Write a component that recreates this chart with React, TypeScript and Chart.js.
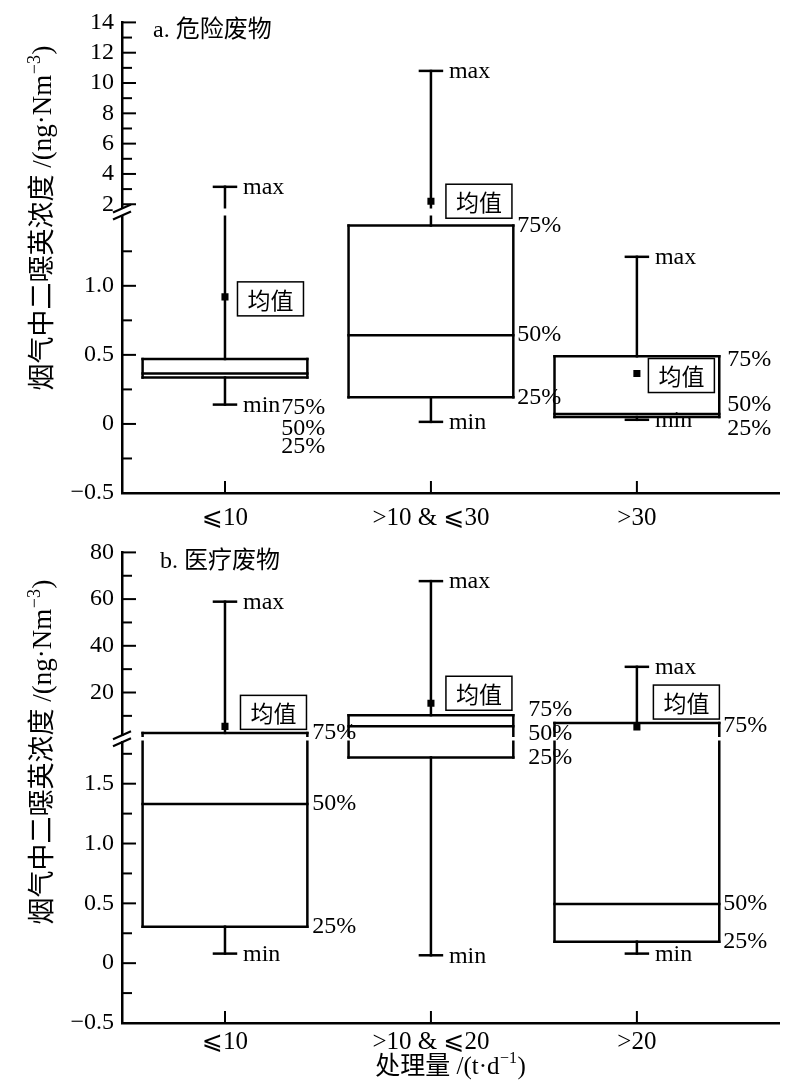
import React, { useEffect, useRef } from 'react';
import { Chart, registerables } from 'chart.js';
Chart.register(...registerables);

const LATIN = '"Liberation Serif", "DejaVu Serif", "DejaVu Sans", "Noto Sans CJK SC", serif';
const CJK = '"Noto Sans CJK SC", sans-serif';

// ---------- panel a: 危险废物 ----------
const titleA = 'a. 危险废物';
const catsA = ['⩽10', '>10 & ⩽30', '>30'];
const minA = [0.14, 0.015, 0.03];
const q1A = [0.336, 0.193, 0.05];
const medA = [0.365, 0.643, 0.072];
const q3A = [0.47, 1.436, 0.49];
const maxA = [3.15, 10.8, 1.21];
const meanA = [0.92, 2.2, 0.365];
const lowRangeA = [-0.5, 1.5];
const highRangeA = [1.8, 14];
const lowTicksA = [-0.5, 0, 0.5, 1.0];
const lowMinorA = [-0.25, 0.25, 0.75, 1.25];
const highTicksA = [2, 4, 6, 8, 10, 12, 14];
const highMinorA = [3, 5, 7, 9, 11, 13];

// ---------- panel b: 医疗废物 ----------
const titleB = 'b. 医疗废物';
const catsB = ['⩽10', '>10 & ⩽20', '>20'];
const minB = [0.08, 0.066, 0.08];
const q1B = [0.305, 1.72, 0.18];
const medB = [1.33, 5.6, 0.495];
const q3B = [2.7, 10.3, 6.9];
const maxB = [58.9, 67.7, 31];
const meanB = [5.5, 15.4, 5.2];
const lowRangeB = [-0.5, 1.85];
const highRangeB = [1.5, 80];
const lowTicksB = [-0.5, 0, 0.5, 1.0, 1.5];
const lowMinorB = [-0.25, 0.25, 0.75, 1.25, 1.75];
const highTicksB = [20, 40, 60, 80];
const highMinorB = [10, 30, 50, 70];

const yTitleMain = '烟气中二噁英浓度 /(ng·Nm';
const yTitleSup = '−3';
const xTitleMain = '处理量 /(t·d';
const xTitleSup = '−1';
const pctLabels = ['25%', '50%', '75%'];
const meanLabel = '均值';

// ---------- styles ----------
const BOX_W = 0.8;
const CAP_HALF = 11;

interface PanelCfg {
  title: string; titleX: number; titleY: number;
  cats: string[]; mins: number[]; q1: number[]; med: number[]; q3: number[]; maxs: number[]; means: number[];
  lowRange: number[]; highRange: number[];
  lowTicks: number[]; lowMinor: number[]; highTicks: number[]; highMinor: number[];
  weights: number[];
  pctOffsets: number[][][];
  meanBoxDx: number[]; meanBoxDy: number[];
  xLabelPad: number; xAxisH: number; xTitle: boolean; yTitleCy: number;
}

const panelA: PanelCfg = {
  title: titleA, titleX: 153, titleY: 31,
  cats: catsA, mins: minA, q1: q1A, med: medA, q3: q3A, maxs: maxA, means: meanA,
  lowRange: lowRangeA, highRange: highRangeA,
  lowTicks: lowTicksA, lowMinor: lowMinorA, highTicks: highTicksA, highMinor: highMinorA,
  weights: [187.4, 9.6, 280],
  pctOffsets: [
    [[-30, 69], [-30, 55], [-30, 49]],
    [[0, 0], [0, 0], [0, 0]],
    [[4, 12], [4, -9], [4, 3]],
  ],
  meanBoxDx: [12.5, 15, 11.5], meanBoxDy: [2, 0, 2],
  xLabelPad: 10, xAxisH: 37, xTitle: false, yTitleCy: 218,
};

const panelB: PanelCfg = {
  title: titleB, titleX: 160, titleY: 32,
  cats: catsB, mins: minB, q1: q1B, med: medB, q3: q3B, maxs: maxB, means: meanB,
  lowRange: lowRangeB, highRange: highRangeB,
  lowTicks: lowTicksB, lowMinor: lowMinorB, highTicks: highTicksB, highMinor: highMinorB,
  weights: [185.8, 6.2, 285],
  pctOffsets: [
    [[1, 0], [1, 0], [1, 0]],
    [[11, 0], [11, 8], [11, -5]],
    [[0, 0], [0, 0], [0, 3]],
  ],
  meanBoxDx: [15.5, 15, 16.5], meanBoxDy: [-14, -10, -25],
  xLabelPad: 4, xAxisH: 57, xTitle: true, yTitleCy: 222,
};

function fmtLow(v: number) {
  if (v === 0) return '0';
  return (v < 0 ? '−' : '') + Math.abs(v).toFixed(1);
}

function drawSupText(ctx: CanvasRenderingContext2D, main: string, sup: string, cx: number, cy: number, size: number) {
  const big = `${size}px ${LATIN}`;
  const small = `${Math.round(size * 0.65)}px ${LATIN}`;
  ctx.font = big; const w1 = ctx.measureText(main).width; const w3 = ctx.measureText(')').width;
  ctx.font = small; const w2 = ctx.measureText(sup).width;
  const W = w1 + w2 + w3 + 1;
  let x = cx - W / 2;
  ctx.textAlign = 'left'; ctx.textBaseline = 'middle';
  ctx.font = big; ctx.fillText(main, x, cy); x += w1 + 0.5;
  ctx.font = small; ctx.fillText(sup, x, cy - size * 0.33); x += w2 + 0.5;
  ctx.font = big; ctx.fillText(')', x, cy);
}

function makePlugin(p: PanelCfg) {
  return {
    id: 'boxplot',
    beforeDatasetsDraw(chart: any) {
      const ctx: CanvasRenderingContext2D = chart.ctx;
      const xs = chart.scales.x, lo = chart.scales.yLow, hi = chart.scales.yHigh;
      const lowMax = lo.max;
      const isHigh = (v: number) => v > lowMax;
      const py = (v: number) => (isHigh(v) ? hi : lo).getPixelForValue(v);
      ctx.save();
      ctx.strokeStyle = '#000'; ctx.lineWidth = 2.5; ctx.lineCap = 'square';
      const vline = (x: number, a: number, b: number) => {
        ctx.beginPath();
        if (isHigh(a) === isHigh(b)) { ctx.moveTo(x, py(a)); ctx.lineTo(x, py(b)); }
        else { ctx.moveTo(x, py(a)); ctx.lineTo(x, lo.top); ctx.moveTo(x, hi.bottom); ctx.lineTo(x, py(b)); }
        ctx.stroke();
      };
      const hline = (x1: number, x2: number, v: number) => {
        ctx.beginPath(); ctx.moveTo(x1, py(v)); ctx.lineTo(x2, py(v)); ctx.stroke();
      };
      p.cats.forEach((_, i) => {
        const c = i + 1;
        const cx = xs.getPixelForValue(c);
        const xl = xs.getPixelForValue(c - BOX_W / 2);
        const xr = xs.getPixelForValue(c + BOX_W / 2);
        vline(cx, p.mins[i], p.q1[i]);
        vline(cx, p.q3[i], p.maxs[i]);
        hline(cx - CAP_HALF, cx + CAP_HALF, p.mins[i]);
        hline(cx - CAP_HALF, cx + CAP_HALF, p.maxs[i]);
        vline(xl, p.q1[i], p.q3[i]);
        vline(xr, p.q1[i], p.q3[i]);
        hline(xl, xr, p.q1[i]);
        hline(xl, xr, p.q3[i]);
        hline(xl, xr, p.med[i]);
      });
      ctx.restore();
    },
    afterDatasetsDraw(chart: any) {
      const ctx: CanvasRenderingContext2D = chart.ctx;
      const area = chart.chartArea;
      const xs = chart.scales.x, lo = chart.scales.yLow, hi = chart.scales.yHigh;
      const lowMax = lo.max;
      const isHigh = (v: number) => v > lowMax;
      const py = (v: number) => (isHigh(v) ? hi : lo).getPixelForValue(v);
      ctx.save();
      ctx.strokeStyle = '#000'; ctx.fillStyle = '#000';
      // inward ticks
      ctx.lineWidth = 2; ctx.lineCap = 'butt';
      const ytick = (s: any, v: number, len: number) => {
        const y = s.getPixelForValue(v);
        ctx.beginPath(); ctx.moveTo(area.left, y); ctx.lineTo(area.left + len, y); ctx.stroke();
      };
      p.lowTicks.forEach(v => ytick(lo, v, 14));
      p.lowMinor.forEach(v => ytick(lo, v, 10));
      p.highTicks.forEach(v => ytick(hi, v, 14));
      p.highMinor.forEach(v => ytick(hi, v, 10));
      p.cats.forEach((_, i) => {
        const x = xs.getPixelForValue(i + 1);
        ctx.beginPath(); ctx.moveTo(x, area.bottom); ctx.lineTo(x, area.bottom - 12); ctx.stroke();
      });
      // break marks
      const gc = (hi.bottom + lo.top) / 2;
      ctx.lineWidth = 2.2;
      [-3.5, 3.5].forEach(k => {
        ctx.beginPath();
        ctx.moveTo(area.left - 9, gc + k + 4);
        ctx.lineTo(area.left + 9, gc + k - 4);
        ctx.stroke();
      });
      // labels
      ctx.textBaseline = 'middle';
      p.cats.forEach((_, i) => {
        const c = i + 1;
        const cx = xs.getPixelForValue(c);
        const xr = xs.getPixelForValue(c + BOX_W / 2);
        ctx.font = `24px ${LATIN}`; ctx.textAlign = 'left'; ctx.fillStyle = '#000';
        ctx.fillText('max', cx + CAP_HALF + 7, py(p.maxs[i]) + 1);
        ctx.fillText('min', cx + CAP_HALF + 7, py(p.mins[i]) + 1);
        [p.q1[i], p.med[i], p.q3[i]].forEach((v, k) => {
          const [dx, dy] = p.pctOffsets[i][k];
          ctx.fillText(pctLabels[k], xr + 4 + dx, py(v) + dy);
        });
        const bw = 66, bh = 34;
        const bx = cx + p.meanBoxDx[i];
        const by = py(p.means[i]) + p.meanBoxDy[i] - bh / 2;
        ctx.fillStyle = '#fff'; ctx.fillRect(bx, by, bw, bh);
        ctx.lineWidth = 1.5; ctx.strokeRect(bx, by, bw, bh);
        ctx.fillStyle = '#000'; ctx.font = `23px ${CJK}`; ctx.textAlign = 'center';
        ctx.fillText(meanLabel, bx + bw / 2, by + bh / 2 + 1);
      });
      // panel title
      ctx.textAlign = 'left'; ctx.font = `24px ${LATIN}`;
      ctx.fillText(p.title, p.titleX, p.titleY);
      // y title
      ctx.save();
      ctx.translate(44, p.yTitleCy);
      ctx.rotate(-Math.PI / 2);
      drawSupText(ctx, yTitleMain, yTitleSup, 0, 0, 27);
      ctx.restore();
      if (p.xTitle) {
        drawSupText(ctx, xTitleMain, xTitleSup, (area.left + area.right) / 2, 537, 25);
      }
      ctx.restore();
    },
  };
}

function makeChart(canvas: HTMLCanvasElement, p: PanelCfg) {
  const lowMax = p.lowRange[1];
  const pts = p.means.map((m, i) => ({ x: i + 1, y: m }));
  const meanLow = pts.filter(d => d.y <= lowMax);
  const meanHigh = pts.filter(d => d.y > lowMax);
  const yFont = { family: LATIN, size: 24 };
  const xFont = { family: LATIN, size: 25 };
  const yCommon = (weight: number) => ({
    type: 'linear' as const, position: 'left' as const, stack: 'ystack', stackWeight: weight, offset: false,
    afterFit: (s: any) => { s.width = 122; },
    grid: { display: true, drawOnChartArea: false, drawTicks: false },
    border: { display: true, width: 2.5, color: '#000' },
  });
  return new Chart(canvas, {
    type: 'scatter',
    data: {
      datasets: [
        { data: meanLow, xAxisID: 'x', yAxisID: 'yLow', pointStyle: 'rect', pointRadius: 5, backgroundColor: '#000', borderWidth: 0 },
        { data: meanHigh, xAxisID: 'x', yAxisID: 'yHigh', pointStyle: 'rect', pointRadius: 5, backgroundColor: '#000', borderWidth: 0 },
      ],
    },
    options: {
      animation: false,
      responsive: false,
      events: [],
      layout: { padding: { top: 16, right: 21, left: 0, bottom: 0 } },
      plugins: { legend: { display: false }, tooltip: { enabled: false } },
      scales: {
        x: {
          type: 'linear', position: 'bottom', min: 0.5, max: 3.69,
          afterBuildTicks: (s: any) => { s.ticks = p.cats.map((_, i) => ({ value: i + 1 })); },
          afterFit: (s: any) => { s.height = p.xAxisH; },
          ticks: {
            callback: (v: any) => p.cats[Math.round(Number(v)) - 1] ?? '',
            font: xFont, color: '#000', padding: p.xLabelPad, autoSkip: false, maxRotation: 0,
          },
          grid: { display: true, drawOnChartArea: false, drawTicks: false },
          border: { display: true, width: 2.5, color: '#000' },
        },
        yLow: {
          ...yCommon(p.weights[2]),
          min: p.lowRange[0], max: p.lowRange[1],
          afterBuildTicks: (s: any) => { s.ticks = p.lowTicks.map(v => ({ value: v })); },
          ticks: { callback: (v: any) => fmtLow(Number(v)), font: yFont, color: '#000', padding: 8, autoSkip: false },
        },
        yGap: {
          ...yCommon(p.weights[1]),
          min: 0, max: 1,
          ticks: { display: false },
          grid: { display: false },
          border: { display: false },
        },
        yHigh: {
          ...yCommon(p.weights[0]),
          min: p.highRange[0], max: p.highRange[1],
          afterBuildTicks: (s: any) => { s.ticks = p.highTicks.map(v => ({ value: v })); },
          ticks: { callback: (v: any) => String(Number(v)), font: yFont, color: '#000', padding: 8, autoSkip: false },
        },
      },
    } as any,
    plugins: [makePlugin(p)],
  });
}

export default function App() {
  const refA = useRef<HTMLCanvasElement>(null);
  const refB = useRef<HTMLCanvasElement>(null);
  useEffect(() => {
    const a = makeChart(refA.current!, panelA);
    const b = makeChart(refB.current!, panelB);
    return () => { a.destroy(); b.destroy(); };
  }, []);
  return (
    <div style={{ position: 'absolute', left: 0, top: 0, width: 800, height: 1080, background: '#fff' }}>
      <canvas ref={refA} width={800} height={530} style={{ position: 'absolute', left: 0, top: 0 }} />
      <canvas ref={refB} width={800} height={550} style={{ position: 'absolute', left: 0, top: 530 }} />
    </div>
  );
}
